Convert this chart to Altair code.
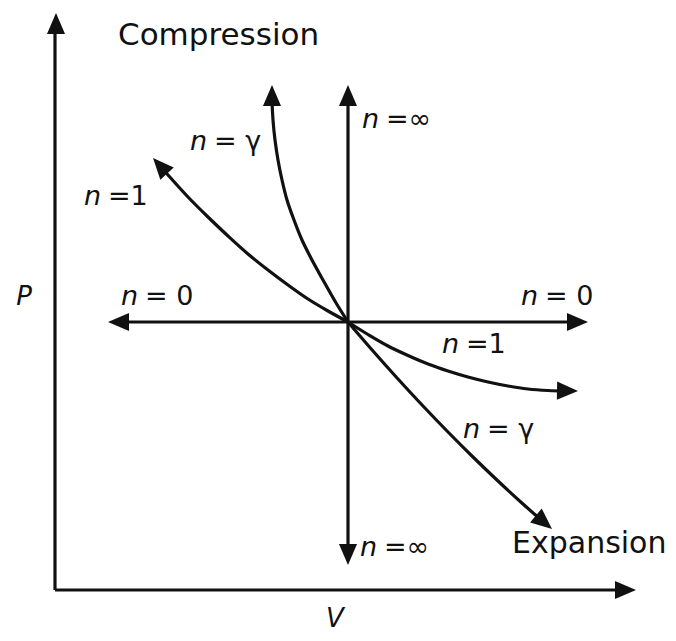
import altair as alt
import pandas as pd

# ---- data (V, P units; axes origin at 0,0) ----
# axes
axis_p_V = [0.0, 0.0]
axis_p_P = [0.0, 56.5]
axis_v_V = [0.0, 56.9]
axis_v_P = [0.0, 0.0]

# n = 0 (isobaric), both directions
n0_left_V = [29.3, 6.5]
n0_left_P = [26.8, 26.8]
n0_right_V = [29.3, 52.1]
n0_right_P = [26.8, 26.8]

# n = infinity (isochoric), both directions
ninf_up_V = [29.3, 29.3]
ninf_up_P = [26.8, 49.3]
ninf_down_V = [29.3, 29.3]
ninf_down_P = [26.8, 3.7]

# n = 1 compression / expansion
n1_comp_V = [29.3, 27.3, 25.3, 23.3, 21.3, 19.3, 17.3, 15.3, 13.3, 11.3, 10.6]
n1_comp_P = [26.8, 27.9, 29.1, 30.5, 32.0, 33.6, 35.4, 37.3, 39.3, 41.5, 42.3]
n1_exp_V = [29.3, 31.3, 33.3, 35.3, 37.3, 39.3, 41.3, 43.3, 45.3, 47.3, 49.3, 51.1]
n1_exp_P = [26.8, 25.55, 24.4, 23.45, 22.6, 21.9, 21.3, 20.8, 20.4, 20.1, 19.95, 19.9]

# n = gamma compression / expansion
ng_comp_V = [29.3, 28.05, 26.8, 25.7, 24.7, 23.9, 23.2, 22.7, 22.3, 22.0, 21.8, 21.7, 21.7]
ng_comp_P = [26.8, 28.8, 31.0, 33.0, 35.0, 37.0, 39.0, 41.0, 43.0, 45.0, 47.0, 49.0, 49.3]
ng_exp_V = [29.3, 31.8, 34.3, 36.8, 39.3, 41.8, 44.3, 46.8, 48.5]
ng_exp_P = [26.8, 23.9, 21.1, 18.4, 15.8, 13.3, 10.9, 8.6, 7.1]

# arrow tips (V, P) and the direction each points (degrees clockwise from up)
tip_V = [0.1, 58.1, 5.3, 53.3, 29.3, 29.3, 9.8, 52.3, 21.7, 49.7]
tip_P = [57.7, 0.0, 26.8, 26.8, 50.5, 2.5, 43.2, 19.9, 50.5, 6.1]
tip_angle = [0, 90, 270, 90, 0, 180, 318, 91, 0, 130]

# labels: italic "n" + upright remainder
lab_V = [30.7, 13.5, 2.9, 6.6, 46.6, 38.7, 40.8, 30.5]
lab_P = [47.0, 44.8, 39.3, 29.3, 29.3, 24.5, 16.0, 4.2]
lab_rest = ["=\u221e", "= \u03b3", "=1", "= 0", "= 0", "=1", "= \u03b3", "=\u221e"]

# titles
title_text = ["Compression", "Expansion"]
title_V = [6.3, 45.7]
title_P = [55.4, 4.6]
title_size = [31, 30]

axis_label_text = ["P", "V"]
axis_label_V = [-3.1, 28.0]
axis_label_P = [29.3, -2.9]

# ---- build tables ----
curves = {
    "axisP": (axis_p_V, axis_p_P),
    "axisV": (axis_v_V, axis_v_P),
    "n0L": (n0_left_V, n0_left_P),
    "n0R": (n0_right_V, n0_right_P),
    "ninfU": (ninf_up_V, ninf_up_P),
    "ninfD": (ninf_down_V, ninf_down_P),
    "n1C": (n1_comp_V, n1_comp_P),
    "n1E": (n1_exp_V, n1_exp_P),
    "ngC": (ng_comp_V, ng_comp_P),
    "ngE": (ng_exp_V, ng_exp_P),
}
rows = []
for name, (vs, ps) in curves.items():
    for i, (v, p) in enumerate(zip(vs, ps)):
        rows.append({"curve": name, "V": v, "P": p, "ord": i})
lines_df = pd.DataFrame(rows)

tips_df = pd.DataFrame({"V": tip_V, "P": tip_P, "angle": tip_angle})
labels_df = pd.DataFrame({"V": lab_V, "P": lab_P, "n": ["n"] * len(lab_V), "rest": lab_rest})
titles_df = pd.DataFrame({"V": title_V, "P": title_P, "t": title_text, "s": title_size})
axlab_df = pd.DataFrame({"V": axis_label_V, "P": axis_label_P, "t": axis_label_text})

xs = alt.Scale(domain=[-4.7, 61.3], nice=False, zero=False)
ys = alt.Scale(domain=[-4.3, 58.2], nice=False, zero=False)
X = lambda: alt.X("V:Q", scale=xs, axis=None)
Y = lambda: alt.Y("P:Q", scale=ys, axis=None)

FONT = "DejaVu Sans"
INK = "#111111"

lines = alt.Chart(lines_df).mark_line(
    color=INK, strokeWidth=3.2, strokeCap="butt", strokeJoin="round",
    interpolate="catmull-rom",
).encode(x=X(), y=Y(), detail="curve:N", order="ord:Q")

arrows = alt.Chart(tips_df).mark_point(
    shape="M0,0L0.43,1L-0.43,1Z", filled=True, opacity=1, color=INK, size=1764, strokeWidth=0
).encode(x=X(), y=Y(), angle=alt.Angle("angle:Q", scale=None))

n_text = alt.Chart(labels_df).mark_text(
    align="left", baseline="middle", font=FONT, fontSize=27, fontStyle="italic", color=INK
).encode(x=X(), y=Y(), text="n:N")

rest_text = alt.Chart(labels_df).mark_text(
    align="left", baseline="middle", font=FONT, fontSize=27, dx=24, color=INK
).encode(x=X(), y=Y(), text="rest:N")

titles = alt.Chart(titles_df).mark_text(
    align="left", baseline="middle", font=FONT, color=INK
).encode(x=X(), y=Y(), text="t:N", size=alt.Size("s:Q", scale=None))

axlabs = alt.Chart(axlab_df).mark_text(
    align="center", baseline="middle", font=FONT, fontSize=26, fontStyle="italic", color=INK
).encode(x=X(), y=Y(), text="t:N")

chart = alt.layer(lines, arrows, n_text, rest_text, titles, axlabs).properties(
    width=660, height=625, padding=0,
    autosize=alt.AutoSizeParams(type="none"),
).configure_view(stroke=None)

chart.save("out.html", embed_options={"renderer": "svg", "actions": False})
